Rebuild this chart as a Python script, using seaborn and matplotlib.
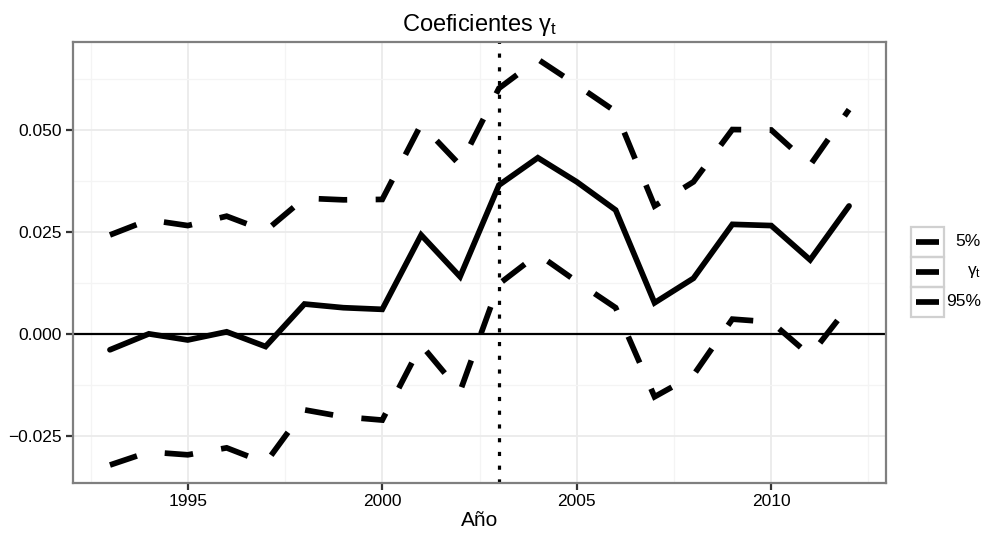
import numpy as np
import pandas as pd
import matplotlib
matplotlib.use("Agg")
import matplotlib.pyplot as plt
from matplotlib.patches import Rectangle
from matplotlib.lines import Line2D
import seaborn as sns

# Data: yearly coefficient estimate and its 5% / 95% bounds
years = list(range(1993, 2013))
gamma_t = [-0.0038, 0.0001, -0.0014, 0.0006, -0.0030, 0.0074, 0.0065, 0.0061,
           0.0243, 0.0141, 0.0365, 0.0432, 0.0373, 0.0304, 0.0077, 0.0137,
           0.0269, 0.0266, 0.0182, 0.0314]
upper_95 = [0.0243, 0.0280, 0.0266, 0.0289, 0.0253, 0.0333, 0.0329, 0.0330,
            0.0514, 0.0414, 0.0602, 0.0673, 0.0610, 0.0545, 0.0314, 0.0373,
            0.0501, 0.0500, 0.0414, 0.0550]
lower_5 = [-0.0320, -0.0288, -0.0295, -0.0278, -0.0315, -0.0185, -0.0202, -0.0210,
           -0.0026, -0.0140, 0.0123, 0.0196, 0.0129, 0.0065, -0.0153, -0.0100,
           0.0037, 0.0030, -0.0052, 0.0070]
break_year = 2003
series_labels = ["5%", r"$\gamma_{t}$", "95%"]
x_ticks = [1995, 2000, 2005, 2010]
y_ticks = [-0.025, 0.000, 0.025, 0.050]

sns.set_theme(style="white")
plt.rcParams["font.family"] = ["Liberation Sans", "DejaVu Sans"]
plt.rcParams["text.color"] = "black"
plt.rcParams["axes.labelcolor"] = "black"
plt.rcParams["mathtext.fontset"] = "custom"
plt.rcParams["mathtext.rm"] = "Liberation Sans"
plt.rcParams["mathtext.it"] = "Liberation Sans"
plt.rcParams["mathtext.default"] = "regular"

W, H = 982, 533
fig = plt.figure(figsize=(W / 100, H / 100), dpi=100)
left, right, top, bottom = 73, 886, 41.7, 483
ax = fig.add_axes([left / W, 1 - bottom / H, (right - left) / W, (bottom - top) / H])

df = pd.DataFrame({"Año": years, "gamma": gamma_t, "p95": upper_95, "p5": lower_5})

# grid (major + minor), drawn beneath the data
ax.set_xlim(1992.05, 2012.95)
ax.set_ylim(-0.0364, 0.0716)
ax.set_xticks(x_ticks)
ax.set_yticks(y_ticks)
ax.set_xticks([1992.5, 1997.5, 2002.5, 2007.5, 2012.5], minor=True)
ax.set_yticks([-0.0125, 0.0125, 0.0375, 0.0625], minor=True)
ax.grid(which="major", color="#ebebeb", lw=1.3)
ax.grid(which="minor", color="#f4f4f4", lw=0.9)
ax.set_axisbelow(True)

ax.axhline(0, color="black", lw=1.6, zorder=2)
ax.axvline(break_year, color="black", lw=2.3, dashes=(1.3, 3.0),
           dash_capstyle="butt", zorder=2)

lw = 4.1
sns.lineplot(data=df, x="Año", y="p5", ax=ax, color="black", lw=lw, legend=False)
sns.lineplot(data=df, x="Año", y="gamma", ax=ax, color="black", lw=lw, legend=False)
sns.lineplot(data=df, x="Año", y="p95", ax=ax, color="black", lw=lw, legend=False)
lines = ax.get_lines()[-3:]
for ln, dashed in zip(lines, [True, False, True]):
    ln.set_solid_joinstyle("miter")
    ln.set_dash_joinstyle("miter")
    ln.set_dash_capstyle("butt")
    ln.set_zorder(3)
    if dashed:
        ln.set_dashes((5, 5))

ax.yaxis.set_major_formatter(matplotlib.ticker.FuncFormatter(
    lambda v, p: f"{v:.3f}".replace("-", "\u2212")))
ax.tick_params(axis="both", which="major", length=5, width=1.6, color="#333333",
               labelsize=12.5, labelcolor="black", pad=3, direction="out",
               bottom=True, left=True)
ax.tick_params(which="minor", length=0)
for sp in ax.spines.values():
    sp.set_color("#7f7f7f")
    sp.set_linewidth(1.6)

ax.set_xlabel("Año", fontsize=15, labelpad=1, color="black")
ax.set_ylabel("")
ax.set_title(r"Coeficientes $\gamma_{t}$", fontsize=17, pad=8, color="black")

# legend on the right: one keyed box per series
lax = fig.add_axes([0, 0, 1, 1])
lax.set_xlim(0, W)
lax.set_ylim(H, 0)
lax.axis("off")
key_x0, key_x1 = 911, 944
key_top, key_h = 227, 30
for i, lab in enumerate(series_labels):
    y0 = key_top + i * key_h
    lax.add_patch(Rectangle((key_x0, y0), key_x1 - key_x0, key_h, fill=False,
                            ec="#d0d0d0", lw=1.6))
    yc = y0 + key_h / 2
    lax.add_line(Line2D([916.5, 939.5], [yc, yc], color="black", lw=lw,
                        solid_capstyle="butt"))
    lax.text(981, yc, lab, ha="right", va="center", fontsize=12.5, color="black")

fig.savefig("out.png", dpi=100)
